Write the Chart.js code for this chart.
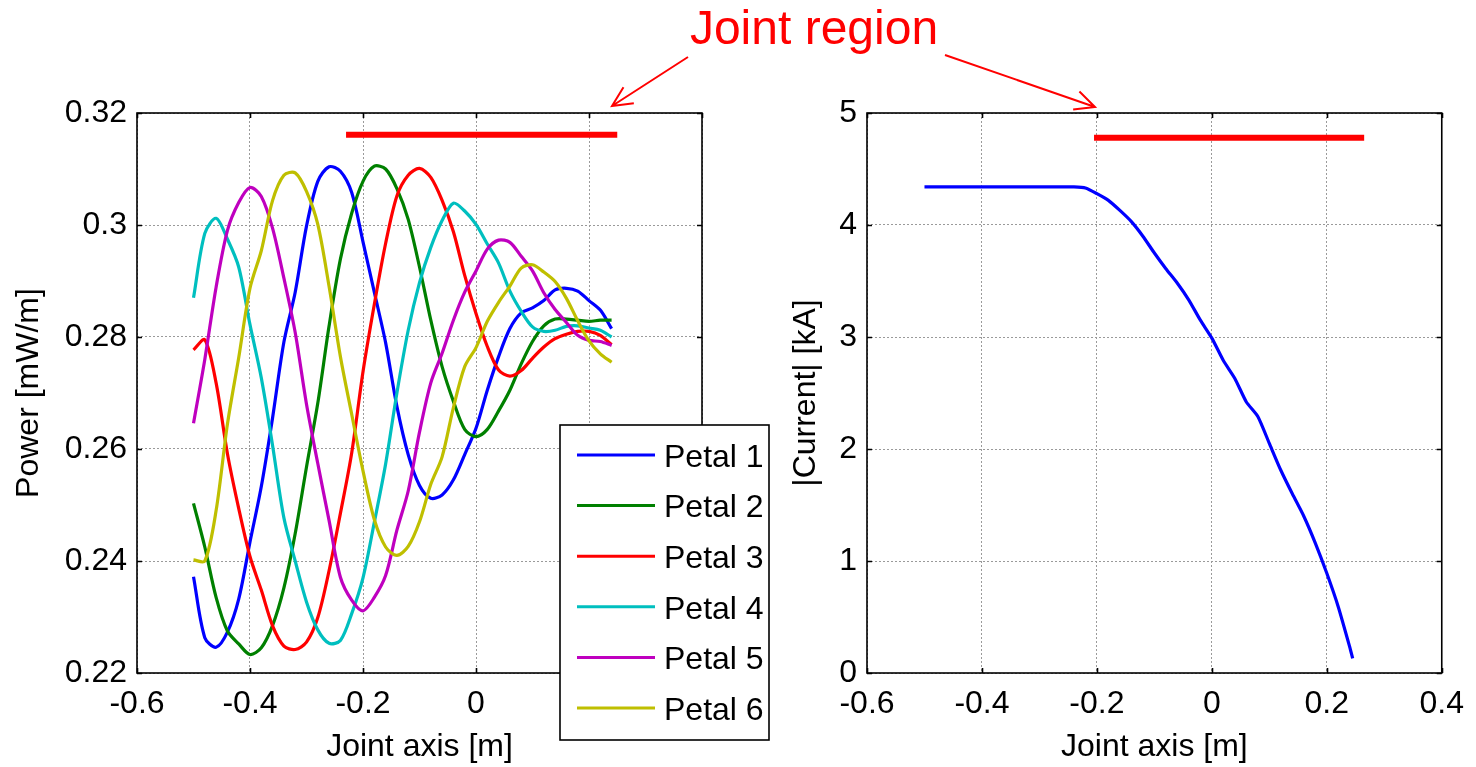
<!DOCTYPE html>
<html>
<head>
<meta charset="utf-8">
<script src="https://cdn.jsdelivr.net/npm/chart.js@4.4.1/dist/chart.umd.min.js"></script>
<style>
    body { margin: 0; background: #fff; width: 1476px; height: 767px; position: relative; overflow: hidden; }
    canvas { position: absolute; top: 0; }
    #jointLabel {
        position: absolute; left: 614px; top: 4px; width: 400px; text-align: center;
        font: 48px "Liberation Sans", Arial, sans-serif; line-height: 48px; color: #ff0000;
    }
    #arrows { position: absolute; left: 0; top: 0; }
</style>
</head>
<body>
<canvas id="powerChart" width="780" height="767" style="left:0"></canvas>
<canvas id="currentChart" width="696" height="767" style="left:780px"></canvas>
<div id="jointLabel">Joint region</div>
<svg id="arrows" width="1476" height="767"></svg>
<script>
// Joint axis positions (m), shared by all petals
const jointX = [-0.50, -0.48, -0.46, -0.44, -0.42, -0.40, -0.38, -0.36, -0.34, -0.32,
    -0.30, -0.28, -0.26, -0.24, -0.22, -0.20, -0.18, -0.16, -0.14, -0.12,
    -0.10, -0.08, -0.06, -0.04, -0.02, 0.00, 0.02, 0.04, 0.06, 0.08,
    0.10, 0.12, 0.14, 0.16, 0.18, 0.20, 0.22, 0.24];

// Power per petal [mW/m]
const petal1 = [0.2372, 0.2263, 0.2246, 0.2273, 0.2332, 0.2434, 0.2533, 0.2656, 0.2791, 0.2880,
    0.2998, 0.3078, 0.3104, 0.3096, 0.3058, 0.2970, 0.2880, 0.2790, 0.2676, 0.2590,
    0.2535, 0.2512, 0.2518, 0.2545, 0.2590, 0.2637, 0.2705, 0.2765, 0.2815, 0.2843,
    0.2852, 0.2865, 0.2884, 0.2887, 0.2882, 0.2865, 0.2848, 0.2815];
const petal2 = [0.2503, 0.2425, 0.2335, 0.2275, 0.2252, 0.2233, 0.2245, 0.2285, 0.2352, 0.2449,
    0.2568, 0.2682, 0.2820, 0.2939, 0.3021, 0.3078, 0.3105, 0.3100, 0.3065, 0.3010,
    0.2925, 0.2830, 0.2747, 0.2685, 0.2635, 0.2622, 0.2635, 0.2668, 0.2705, 0.2752,
    0.2792, 0.2820, 0.2832, 0.2832, 0.2830, 0.2828, 0.2830, 0.2830];
const petal3 = [0.2777, 0.2795, 0.2718, 0.2592, 0.2494, 0.2408, 0.2348, 0.2284, 0.2248, 0.2242,
    0.2255, 0.2299, 0.2383, 0.2485, 0.2593, 0.2738, 0.2858, 0.2967, 0.3052, 0.3089,
    0.3101, 0.3085, 0.3044, 0.2988, 0.2910, 0.2842, 0.2783, 0.2741, 0.2730, 0.2740,
    0.2762, 0.2782, 0.2797, 0.2805, 0.2810, 0.2810, 0.2803, 0.2786];
const petal4 = [0.2870, 0.2985, 0.3012, 0.2975, 0.2925, 0.2822, 0.2727, 0.2606, 0.2477, 0.2400,
    0.2327, 0.2277, 0.2253, 0.2258, 0.2306, 0.2370, 0.2469, 0.2573, 0.2700, 0.2812,
    0.2897, 0.2960, 0.3008, 0.3039, 0.3025, 0.3001, 0.2966, 0.2932, 0.2882, 0.2846,
    0.2818, 0.2810, 0.2812, 0.2819, 0.2820, 0.2816, 0.2812, 0.2800];
const petal5 = [0.2646, 0.2760, 0.2889, 0.2990, 0.3040, 0.3067, 0.3051, 0.2994, 0.2905, 0.2808,
    0.2680, 0.2574, 0.2472, 0.2371, 0.2330, 0.2311, 0.2335, 0.2374, 0.2455, 0.2525,
    0.2630, 0.2718, 0.2771, 0.2830, 0.2880, 0.2918, 0.2957, 0.2973, 0.2969, 0.2944,
    0.2918, 0.2879, 0.2849, 0.2826, 0.2803, 0.2794, 0.2792, 0.2785];
const petal6 = [0.2402, 0.2400, 0.2490, 0.2644, 0.2763, 0.2887, 0.2954, 0.3044, 0.3089, 0.3093,
    0.3060, 0.3001, 0.2890, 0.2765, 0.2662, 0.2561, 0.2474, 0.2425, 0.2410, 0.2426,
    0.2470, 0.2537, 0.2586, 0.2674, 0.2747, 0.2781, 0.2828, 0.2862, 0.2891, 0.2923,
    0.2929, 0.2916, 0.2899, 0.2869, 0.2829, 0.2793, 0.2770, 0.2755];

// |Current| [kA] along the joint axis
const currentX = [-0.50, -0.48, -0.46, -0.44, -0.42, -0.40, -0.38, -0.36, -0.34, -0.32,
    -0.30, -0.28, -0.26, -0.24, -0.22, -0.20, -0.18, -0.16, -0.14, -0.12,
    -0.10, -0.08, -0.06, -0.04, -0.02, 0.00, 0.02, 0.04, 0.06, 0.08,
    0.10, 0.12, 0.14, 0.16, 0.18, 0.20, 0.22, 0.24, 0.245];
const currentKA = [4.34, 4.34, 4.34, 4.34, 4.34, 4.34, 4.34, 4.34, 4.34, 4.34,
    4.34, 4.34, 4.34, 4.34, 4.33, 4.28, 4.22, 4.13, 4.03, 3.90,
    3.75, 3.61, 3.48, 3.33, 3.15, 2.99, 2.79, 2.63, 2.42, 2.29,
    2.05, 1.81, 1.60, 1.40, 1.16, 0.89, 0.59, 0.23, 0.13];

// Joint region markers
const jointPowerX = [-0.23, 0.25];
const jointPowerY = [0.3161, 0.3161];
const jointCurrentX = [-0.205, 0.265];
const jointCurrentY = [4.78, 4.78];

// Ticks
const xTicks = [-0.6, -0.4, -0.2, 0, 0.2, 0.4];
const powerTicks = [0.22, 0.24, 0.26, 0.28, 0.30, 0.32];
const currentTicks = [0, 1, 2, 3, 4, 5];

const petalNames = ['Petal 1', 'Petal 2', 'Petal 3', 'Petal 4', 'Petal 5', 'Petal 6'];
const petalColors = ['#0000ff', '#008000', '#ff0000', '#00bfbf', '#bf00bf', '#bfbf00'];
const petalValues = [petal1, petal2, petal3, petal4, petal5, petal6];

const fontFamily = '"Liberation Sans", Arial, sans-serif';
Chart.defaults.font.family = fontFamily;
Chart.defaults.font.size = 32;
Chart.defaults.color = '#000';

const toPoints = (xs, ys) => xs.map((x, i) => ({ x: x, y: ys[i] }));
const fmt = v => String(parseFloat(Number(v).toFixed(2)));

// MATLAB-style box with inward tick marks
const frame = {
    id: 'frame',
    afterDraw(chart) {
        const { ctx, chartArea: a, scales } = chart;
        ctx.save();
        ctx.strokeStyle = '#000';
        ctx.lineWidth = 1.6;
        ctx.strokeRect(a.left, a.top, a.right - a.left, a.bottom - a.top);
        ctx.beginPath();
        scales.x.ticks.forEach(t => {
            const px = Math.round(scales.x.getPixelForValue(t.value)) + 0.5;
            ctx.moveTo(px, a.bottom); ctx.lineTo(px, a.bottom - 5);
            ctx.moveTo(px, a.top); ctx.lineTo(px, a.top + 5);
        });
        scales.y.ticks.forEach(t => {
            const py = Math.round(scales.y.getPixelForValue(t.value)) + 0.5;
            ctx.moveTo(a.left, py); ctx.lineTo(a.left + 5, py);
            ctx.moveTo(a.right, py); ctx.lineTo(a.right - 5, py);
        });
        ctx.stroke();
        ctx.restore();
    }
};

const petalLegend = {
    id: 'petalLegend',
    afterDraw(chart) {
        const ctx = chart.ctx;
        ctx.save();
        ctx.fillStyle = '#fff';
        ctx.fillRect(560, 425, 209, 315);
        ctx.strokeStyle = '#000';
        ctx.lineWidth = 1.6;
        ctx.strokeRect(560, 425, 209, 315);
        ctx.font = '32px ' + fontFamily;
        ctx.textBaseline = 'middle';
        petalNames.forEach((name, i) => {
            const y = 455 + i * 50.6;
            ctx.strokeStyle = petalColors[i];
            ctx.lineWidth = 3;
            ctx.beginPath(); ctx.moveTo(577, y); ctx.lineTo(655, y); ctx.stroke();
            ctx.fillStyle = '#000';
            ctx.fillText(name, 664, y + 3);
        });
        ctx.restore();
    }
};

function axes(yTicks, yTitle, yWidth, yTitlePad) {
    return {
        x: {
            type: 'linear', min: -0.6, max: 0.4,
            afterBuildTicks: s => { s.ticks = xTicks.map(v => ({ value: v })); },
            afterFit: s => { s.height = 94; },
            ticks: { callback: fmt, padding: 12, maxRotation: 0, autoSkip: false },
            grid: { color: '#9a9a9a', lineWidth: 1, drawTicks: false },
            border: { display: false, dash: [2, 2] },
            title: { display: true, text: 'Joint axis [m]', padding: { top: 0, bottom: 1 } }
        },
        y: {
            type: 'linear', min: yTicks[0], max: yTicks[yTicks.length - 1],
            afterBuildTicks: s => { s.ticks = yTicks.map(v => ({ value: v })); },
            afterFit: s => { s.width = yWidth; },
            ticks: { callback: fmt, padding: 10 },
            grid: { color: '#9a9a9a', lineWidth: 1, drawTicks: false },
            border: { display: false, dash: [2, 2] },
            title: { display: true, text: yTitle, padding: { top: yTitlePad, bottom: 0 } }
        }
    };
}

const petalSets = petalValues.map((vals, i) => ({
    label: petalNames[i],
    data: toPoints(jointX, vals),
    borderColor: petalColors[i],
    borderWidth: 3.2,
    pointRadius: 0,
    tension: 0.3,
    fill: false,
    order: 10 - i
}));

new Chart(document.getElementById('powerChart'), {
    type: 'line',
    data: {
        datasets: petalSets.concat([{
            label: 'joint',
            data: toPoints(jointPowerX, jointPowerY),
            borderColor: '#ff0000',
            borderWidth: 6,
            pointRadius: 0,
            order: 0
        }])
    },
    options: {
        responsive: false,
        animation: false,
        layout: { padding: { top: 113, right: 78, bottom: 0, left: 0 } },
        plugins: { legend: { display: false }, tooltip: { enabled: false } },
        scales: axes(powerTicks, 'Power [mW/m]', 137, 10)
    },
    plugins: [frame, petalLegend]
});

new Chart(document.getElementById('currentChart'), {
    type: 'line',
    data: {
        datasets: [{
            label: '|Current|',
            data: toPoints(currentX, currentKA),
            borderColor: '#0000ff',
            borderWidth: 3.2,
            pointRadius: 0,
            tension: 0.2,
            order: 1
        }, {
            label: 'joint',
            data: toPoints(jointCurrentX, jointCurrentY),
            borderColor: '#ff0000',
            borderWidth: 6,
            pointRadius: 0,
            order: 0
        }]
    },
    options: {
        responsive: false,
        animation: false,
        layout: { padding: { top: 113, right: 28, bottom: 0, left: 0 } },
        plugins: { legend: { display: false }, tooltip: { enabled: false } },
        scales: axes(currentTicks, '|Current| [kA]', 87, 7)
    },
    plugins: [frame]
});

// Annotation arrows from the "Joint region" label
function arrow(svg, x1, y1, x2, y2) {
    const ang = Math.atan2(y2 - y1, x2 - x1);
    const len = 22, spread = 0.45;
    const p = (a) => (x2 - len * Math.cos(a)) + ',' + (y2 - len * Math.sin(a));
    const path = document.createElementNS('http://www.w3.org/2000/svg', 'path');
    path.setAttribute('d', 'M' + x1 + ',' + y1 + ' L' + x2 + ',' + y2 +
        ' M' + p(ang - spread) + ' L' + x2 + ',' + y2 + ' L' + p(ang + spread));
    path.setAttribute('stroke', '#ff0000');
    path.setAttribute('stroke-width', '2');
    path.setAttribute('fill', 'none');
    svg.appendChild(path);
}
const svg = document.getElementById('arrows');
arrow(svg, 688, 57, 612, 106);
arrow(svg, 945, 55, 1095, 107);
</script>
</body>
</html>
